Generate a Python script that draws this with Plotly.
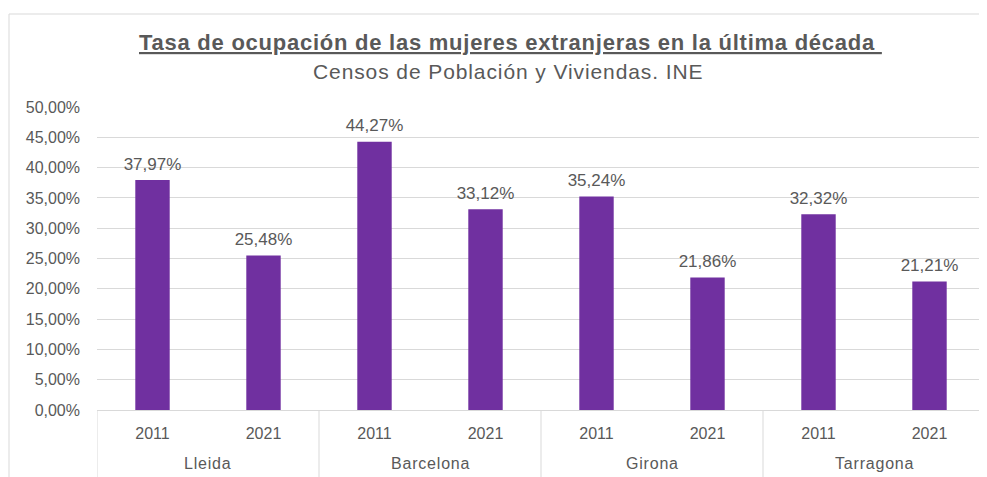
import plotly.graph_objects as go

provinces = ["Lleida", "Lleida", "Barcelona", "Barcelona", "Girona", "Girona", "Tarragona", "Tarragona"]
years = ["2011", "2021", "2011", "2021", "2011", "2021", "2011", "2021"]
rates = [0.3797, 0.2548, 0.4427, 0.3312, 0.3524, 0.2186, 0.3232, 0.2121]
y_ticks = [0, 0.05, 0.10, 0.15, 0.20, 0.25, 0.30, 0.35, 0.40, 0.45, 0.50]

# page has an 8px body margin: figure coordinates = page coordinates - 8
W, H = 979, 469
ML, MR, MT, MB = 89, 2, 99, 67
FONT = "Liberation Sans, Arial, sans-serif"
TXT = "#595959"
GRID = "#d9d9d9"

keys = [f"{p} {y}" for p, y in zip(provinces, years)]
groups = list(dict.fromkeys(provinces))

fig = go.Figure()
fig.add_trace(go.Bar(
    x=keys,
    y=rates,
    marker=dict(color="#7030A0", line=dict(width=0)),
    width=0.31,
    hoverinfo="skip",
))
fig.add_trace(go.Scatter(
    x=keys,
    y=rates,
    mode="markers+text",
    marker=dict(size=8, opacity=0),
    text=[f"{v*100:.2f}%".replace(".", ",") for v in rates],
    textposition="top center",
    textfont=dict(family=FONT, size=17, color=TXT),
    cliponaxis=False,
    hoverinfo="skip",
))

pw = W - ML - MR
ph = H - MT - MB
def px_x(x):
    return (x - ML) / pw
def px_y(y):
    return (H - MB - y) / ph

shapes = [
    dict(type="line", xref="paper", yref="paper",
         x0=px_x(1), x1=px_x(W), y0=px_y(6), y1=px_y(6),
         line=dict(color=GRID, width=1)),
    dict(type="line", xref="paper", yref="paper",
         x0=px_x(1), x1=px_x(1), y0=px_y(6), y1=px_y(H),
         line=dict(color=GRID, width=1)),
]
# group dividers at category boundaries
for i in range(len(groups) + 1):
    xb = i * 2 - 0.5
    shapes.append(dict(type="line", xref="x", yref="paper",
                       x0=xb, x1=xb, y0=0, y1=px_y(H),
                       line=dict(color=GRID, width=1)))

annotations = []
for i, g in enumerate(groups):
    annotations.append(dict(
        x=i * 2 + 0.5, xref="x", y=0, yref="paper",
        text=f"<span style='letter-spacing:0.8px'>{g}</span>",
        showarrow=False, xanchor="center", yanchor="middle", yshift=-53,
        font=dict(family=FONT, size=16, color=TXT),
    ))
annotations.append(dict(
    x=px_x(510 - 8), xref="paper", y=px_y(52 - 8), yref="paper",
    text="<b><u><span style='letter-spacing:0.75px'>Tasa de ocupación de las mujeres extranjeras en la última década </span></u></b>",
    showarrow=False, xanchor="center", yanchor="bottom", yshift=-5,
    font=dict(family=FONT, size=22, color=TXT),
))
annotations.append(dict(
    x=px_x(508 - 8), xref="paper", y=px_y(80 - 8), yref="paper",
    text="<span style='letter-spacing:0.9px'>Censos de Población y Viviendas. INE</span>",
    showarrow=False, xanchor="center", yanchor="bottom", yshift=-5,
    font=dict(family=FONT, size=21, color=TXT),
))

fig.update_layout(
    width=W, height=H,
    margin=dict(l=ML, r=MR, t=MT, b=MB),
    paper_bgcolor="white", plot_bgcolor="white",
    showlegend=False,
    font=dict(family=FONT, color=TXT),
    xaxis=dict(
        type="category",
        range=[-0.5, len(keys) - 0.5],
        tickvals=keys, ticktext=years,
        showgrid=False,
        showline=True, linecolor=GRID, linewidth=1,
        tickfont=dict(family=FONT, size=16, color=TXT),
        ticks="",
        ticklabelstandoff=9,
    ),
    yaxis=dict(
        range=[0, 0.5],
        tickvals=y_ticks,
        ticktext=[f"{v*100:.2f}%".replace(".", ",") for v in y_ticks],
        showgrid=True, gridcolor=GRID, gridwidth=1,
        zeroline=False,
        tickfont=dict(family=FONT, size=16, color=TXT),
        ticklabelstandoff=16,
    ),
    shapes=shapes,
    annotations=annotations,
)

fig.write_html("out.html")
